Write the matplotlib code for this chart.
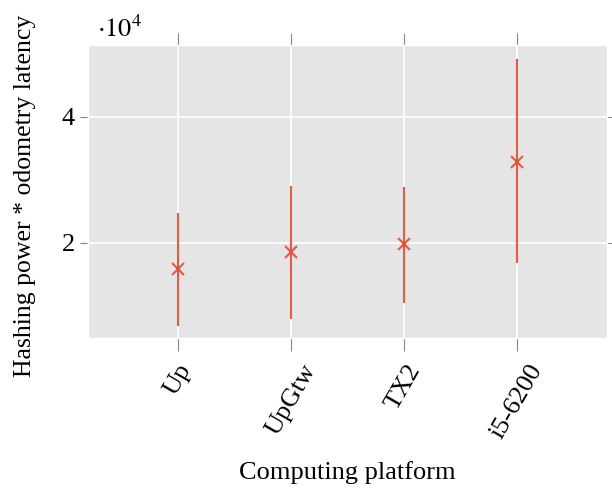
import matplotlib
matplotlib.use("Agg")
import matplotlib.pyplot as plt
import numpy as np

plt.style.use('ggplot')
plt.rcParams['font.family'] = ['Liberation Serif', 'DejaVu Serif']
plt.rcParams['mathtext.fontset'] = 'stix'

platforms = ['Up', 'UpGtw', 'TX2', 'i5-6200']
center = [15870, 18520, 19790, 32900]
upper = [24760, 29050, 28900, 49160]
lower = [6870, 7980, 10530, 16780]

x = np.arange(len(platforms))
err_lo = np.array(center) - np.array(lower)
err_hi = np.array(upper) - np.array(center)

fig = plt.figure(figsize=(6.12, 4.91), dpi=100)
ax = fig.add_axes([88/612, 1 - 338/491, (607-88)/612, (338-45)/491])

ax.errorbar(x, center, yerr=[err_lo, err_hi], fmt='x', color='#E24A33',
            ecolor='#E24A33', elinewidth=1.5, markersize=9, mew=1.5,
            linestyle='none', alpha=0.9)

ax.set_xlim(-0.8, 3.8)
ax.set_ylim(4900, 51400)
ax.set_xticks(x)
ax.set_xticklabels(platforms, rotation=60, ha='center', fontsize=19)
ax.set_yticks([20000, 40000])
ax.set_yticklabels(['2', '4'], fontsize=19)
ax.tick_params(axis='both', which='both', direction='out', length=9,
               color='#888888', labelcolor='black', top=True, right=True)
ax.tick_params(axis='x', pad=7)
ax.tick_params(axis='y', length=6)
ax.grid(True, color='white', linewidth=1.2)
ax.text(0.017, 1.01, r'$\cdot 10^4$', transform=ax.transAxes, fontsize=19,
        ha='left', va='bottom')

ax.set_xlabel('Computing platform', fontsize=19, color='black')
ax.set_ylabel('Hashing power * odometry latency', fontsize=18.5, color='black')
ax.xaxis.set_label_coords(0.5, -0.42)
ax.yaxis.set_label_coords(-0.10, 0.485)

fig.savefig('out.png', dpi=100)
